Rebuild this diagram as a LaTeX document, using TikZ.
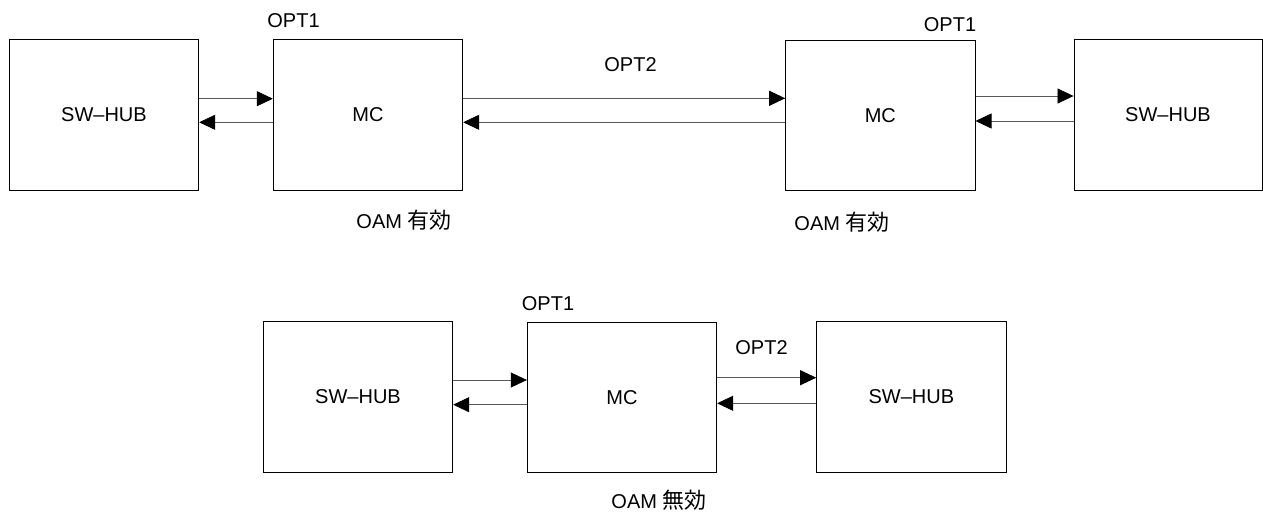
\documentclass[tikz,border=0pt]{standalone}
\usepackage{fontspec}
\setmainfont{Liberation Sans}
\newfontfamily\cjk{Noto Sans CJK JP}
\usetikzlibrary{arrows.meta}
\begin{document}
\begin{tikzpicture}[x=1pt,y=-1pt,
  box/.style={draw=black,line width=0.9pt,rectangle,inner sep=0pt,minimum width=189.4pt,minimum height=150.7pt,font=\fontsize{20}{23}\selectfont},
  lbl/.style={inner sep=0pt,font=\fontsize{20}{23}\selectfont},
  arr/.style={draw=black!65,line width=0.7pt,-{Triangle[length=16pt,width=15pt,fill=black,color=black]}}]
\useasboundingbox (0,0) rectangle (1263,517);
% top row
\node[box] (b1) at (104,114.65) {SW–HUB};
\node[box] (m1) at (368,115) {MC};
\node[box] (m2) at (880.35,115.35) {MC};
\node[box,minimum width=188pt] (b2) at (1168,114.65) {SW–HUB};
\node[lbl] (o1) at (293.5,20.7) {OPT1};
\node[lbl] (o2) at (630.5,65) {OPT2};
\node[lbl] (o3) at (950,25) {OPT1};
\node[lbl] (s1) at (404,220) {OAM {\cjk\fontsize{22}{24}\selectfont 有効}};
\node[lbl] (s2) at (842,221.7) {OAM {\cjk\fontsize{22}{24}\selectfont 有効}};
\draw[arr] (b1.east |- 0,98.7) -- (m1.west |- 0,98.7);
\draw[arr] (m1.west |- 0,122.3) -- (b1.east |- 0,122.3);
\draw[arr] (m1.east |- 0,98.3) -- (m2.west |- 0,98.3);
\draw[arr] (m2.west |- 0,122.3) -- (m1.east |- 0,122.3);
\draw[arr] (m2.east |- 0,96) -- (b2.west |- 0,96);
\draw[arr] (b2.west |- 0,121) -- (m2.east |- 0,121);
% bottom row
\node[box] (b3) at (358,396.65) {SW–HUB};
\node[box] (m3) at (622,397.35) {MC};
\node[box] (b4) at (911.35,396.65) {SW–HUB};
\node[lbl] (o4) at (548,304) {OPT1};
\node[lbl] (o5) at (761.5,348) {OPT2};
\node[lbl] (s3) at (659,500) {OAM {\cjk\fontsize{22}{24}\selectfont 無効}};
\draw[arr] (b3.east |- 0,380) -- (m3.west |- 0,380);
\draw[arr] (m3.west |- 0,404.7) -- (b3.east |- 0,404.7);
\draw[arr] (m3.east |- 0,377.7) -- (b4.west |- 0,377.7);
\draw[arr] (b4.west |- 0,403.3) -- (m3.east |- 0,403.3);
\end{tikzpicture}
\end{document}
